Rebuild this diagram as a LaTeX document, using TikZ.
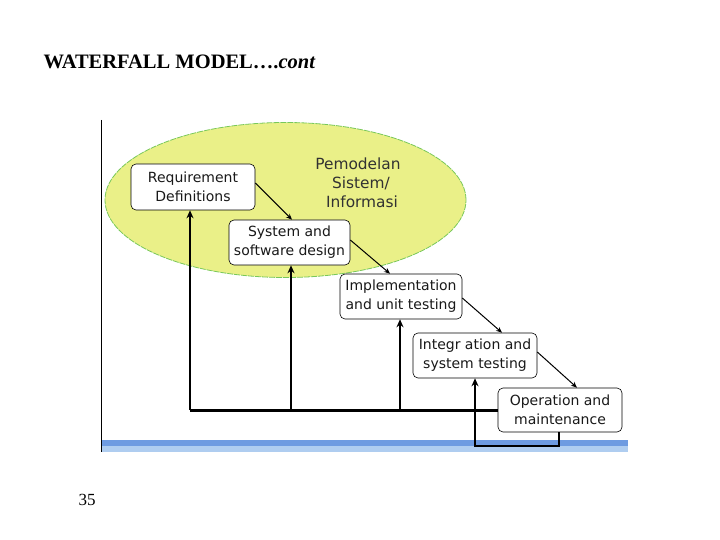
\documentclass[tikz,border=0pt]{standalone}
\usepackage{fontspec}
\setmainfont{Liberation Serif}
\newfontfamily\boxfont{DejaVu Sans}
\usetikzlibrary{shapes.geometric,arrows.meta}
\definecolor{ellfill}{RGB}{234,240,136}
\definecolor{elldraw}{RGB}{120,200,90}
\definecolor{bandA}{RGB}{110,155,225}
\definecolor{bandB}{RGB}{175,205,240}
\definecolor{txtgray}{RGB}{50,50,50}
\tikzset{
  stagebox/.style={draw, rounded corners=5pt, fill=white, line width=0.6pt,
    align=center, font=\boxfont\fontsize{14}{19}\selectfont, text=black!90,
    inner sep=0pt, minimum width=#1},
  stagebox/.default=124pt,
  flow/.style={-{Stealth[length=6pt,width=5pt]}, line width=1pt},
  fb/.style={line width=3pt},
  fbarrow/.style={-{Stealth[length=8pt,width=7pt]}, line width=1.8pt},
}
\begin{document}
\begin{tikzpicture}[x=1pt,y=-1pt]
\useasboundingbox (0,0) rectangle (720,540);
% title and page number
\node[anchor=west, font=\bfseries\fontsize{20.5}{24}\selectfont] (title) at (40,62) {WATERFALL MODEL….\textit{cont}};
\node[font=\fontsize{17}{20}\selectfont] (page) at (87,500) {35};
% axis line and band
\draw[line width=1pt] (101,120) -- (101,452);
\fill[bandA] (102,440) rectangle (628,446);
\fill[bandB] (102,446) rectangle (628,452);
% ellipse
\node[ellipse, draw=elldraw, fill=ellfill, line width=0.8pt, dashed, dash pattern=on 6pt off 1pt,
  minimum width=361pt, minimum height=155pt, inner sep=0pt] (ell) at (285.5,200) {};
\node[font=\boxfont\fontsize{15.4}{19}\selectfont, text=txtgray, align=center] (pem) at (358,183) {Pemodelan\\\hspace*{6pt}Sistem/\\\hspace*{8pt}Informasi};
% stages
\node[stagebox, minimum height=46pt] (req) at (193,187) {Requirement\\Definitions};
\node[stagebox=121pt, minimum height=45pt] (sys) at (289.5,242.5) {System and\\software design};
\node[stagebox=122pt, minimum height=45pt] (imp) at (401,296.5) {Implementation\\and unit testing};
\node[stagebox, minimum height=45pt] (int) at (475,355.5) {Integr ation and\\system testing};
\node[stagebox, minimum height=44pt] (op) at (560,410) {Operation and\\maintenance};
% flow arrows
\draw[flow] (req.east |- 0,183) -- (sys.north -| 292,0);
\draw[flow] (sys.east |- 0,240) -- (imp.north -| 390,0);
\draw[flow] (imp.east |- 0,298) -- (int.north -| 502,0);
\draw[flow] (int.east |- 0,352) -- (op.north -| 577,0);
% feedback
\coordinate (fbL) at (190,410);
\draw[fb] (fbL) -- (op.west);
\draw[fbarrow] (190,410) -- (req.south -| 190,0);
\draw[fbarrow] (291,410) -- (sys.south -| 291,0);
\draw[fbarrow] (400,410) -- (imp.south -| 400,0);
\draw[fbarrow, rounded corners=0pt] (op.south -| 559,0) -- (559,446) -- (475,446) -- (int.south -| 475,0);
\end{tikzpicture}
\end{document}
